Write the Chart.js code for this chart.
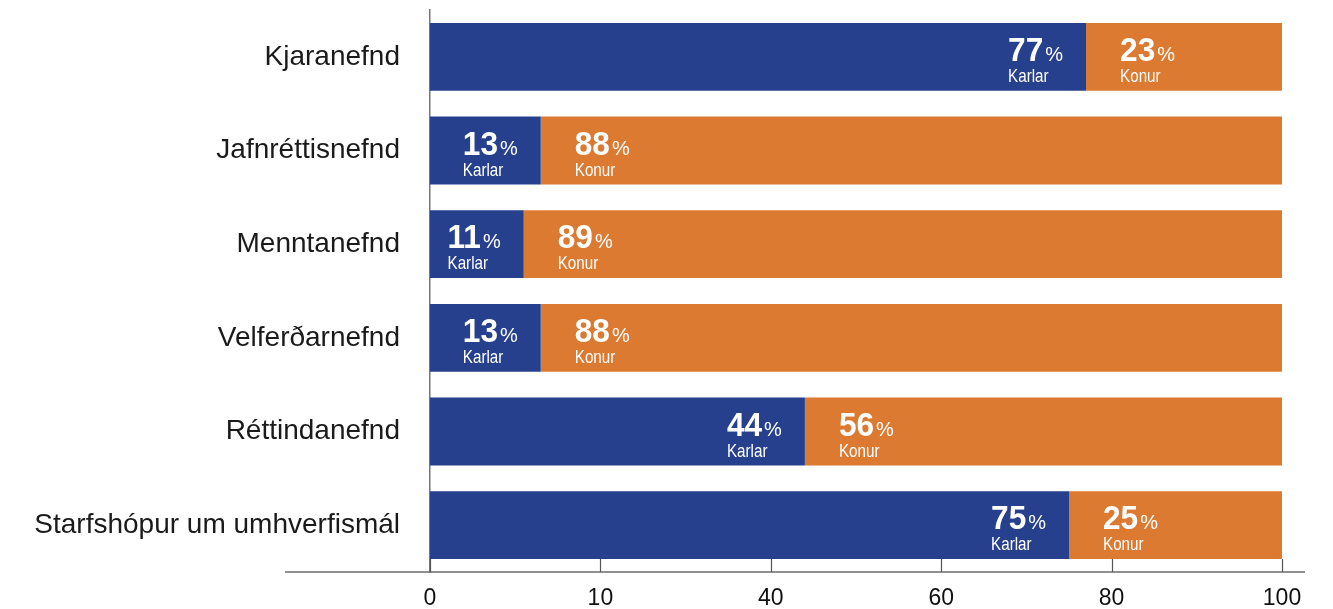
<!DOCTYPE html>
<html>
<head>
<meta charset="utf-8">
<script src="https://cdn.jsdelivr.net/npm/chart.js@4"></script>
<style>
  html, body { margin: 0; padding: 0; background: #ffffff; }
  #wrap { width: 1333px; height: 609px; position: relative; }
</style>
</head>
<body>
<div id="wrap"><canvas id="c"></canvas></div>
<script>
const categories = ['Kjaranefnd', 'Jafnréttisnefnd', 'Menntanefnd', 'Velferðarnefnd', 'Réttindanefnd', 'Starfshópur um umhverfismál'];
const karlar = [77, 13, 11, 13, 44, 75];
const konur = [23, 88, 89, 88, 56, 25];
const seriesNames = ['Karlar', 'Konur'];
const tickValues = [0, 20, 40, 60, 80, 100];
const tickLabels = ['0', '10', '40', '60', '80', '100'];

const BLUE = '#26408e';
const ORANGE = '#dc7a31';

const axisPlugin = {
  id: 'axisPlugin',
  afterDraw(chart) {
    const ctx = chart.ctx;
    const area = chart.chartArea;
    const xs = chart.scales.x;
    ctx.save();
    ctx.strokeStyle = '#6b6b6b';
    ctx.lineWidth = 1.5;
    ctx.beginPath();
    ctx.moveTo(area.left - 145, area.bottom);
    ctx.lineTo(area.right + 23, area.bottom);
    ctx.stroke();
    ctx.lineWidth = 1.2;
    ctx.strokeStyle = '#555';
    tickValues.forEach(v => {
      const px = Math.round(xs.getPixelForValue(v)) + 0.5;
      ctx.beginPath();
      ctx.moveTo(px, area.bottom);
      ctx.lineTo(px, area.bottom - 13);
      ctx.stroke();
    });
    ctx.restore();
  }
};

const NUM_SX = 0.93;
const NAME_SX = 0.8;

const labelPlugin = {
  id: 'labelPlugin',
  afterDatasetsDraw(chart) {
    const ctx = chart.ctx;
    const m0 = chart.getDatasetMeta(0);
    ctx.save();
    ctx.fillStyle = '#ffffff';
    ctx.textBaseline = 'alphabetic';
    ctx.textAlign = 'left';
    const numFont = 'bold 34px "Liberation Sans", Arial, sans-serif';
    const pctFont = '20px "Liberation Sans", Arial, sans-serif';
    const nameFont = '19px "Liberation Sans", Arial, sans-serif';
    function scaledText(s, x, y, sx) {
      ctx.save();
      ctx.translate(x, y);
      ctx.scale(sx, 1);
      ctx.fillText(s, 0, 0);
      ctx.restore();
    }
    function numWidth(value) {
      ctx.font = numFont;
      return ctx.measureText(String(value)).width * NUM_SX;
    }
    function drawLabel(left, cy, value, name) {
      const w = numWidth(value);
      ctx.font = numFont;
      scaledText(String(value), left, cy + 4, NUM_SX);
      ctx.font = pctFont;
      ctx.fillText('%', left + w + 2, cy + 4);
      ctx.font = nameFont;
      scaledText(name, left, cy + 25, NAME_SX);
    }
    function labelWidth(value) {
      const w = numWidth(value);
      ctx.font = pctFont;
      return w + 2 + ctx.measureText('%').width;
    }
    categories.forEach((c, i) => {
      const b = m0.data[i];
      const cy = b.y;
      const blueEnd = b.x;
      const lw = labelWidth(karlar[i]);
      drawLabel(blueEnd - 23 - lw, cy, karlar[i], seriesNames[0]);
      drawLabel(blueEnd + 34, cy, konur[i], seriesNames[1]);
    });
    ctx.restore();
  }
};

new Chart(document.getElementById('c'), {
  type: 'bar',
  data: {
    labels: categories,
    datasets: [
      { label: seriesNames[0], data: karlar, backgroundColor: BLUE, borderWidth: 0, clip: 0 },
      { label: seriesNames[1], data: konur, backgroundColor: ORANGE, borderWidth: 0, clip: 0 }
    ]
  },
  options: {
    indexAxis: 'y',
    responsive: true,
    maintainAspectRatio: false,
    animation: false,
    devicePixelRatio: 1,
    layout: { padding: { top: 10, right: 51, bottom: 0, left: 0 } },
    datasets: { bar: { categoryPercentage: 1, barPercentage: 0.725 } },
    plugins: { legend: { display: false }, tooltip: { enabled: false } },
    scales: {
      x: {
        stacked: true,
        min: 0,
        max: 100,
        afterBuildTicks(scale) { scale.ticks = tickValues.map(v => ({ value: v })); },
        afterFit(scale) {
          scale.height = 37;
          scale.paddingLeft = 0; scale.paddingRight = 0;
          scale.paddingTop = 0; scale.paddingBottom = 0;
        },
        grid: { display: false, drawTicks: false },
        border: { display: false },
        ticks: {
          padding: 13,
          color: '#111',
          font: { family: '"Liberation Sans", Arial, sans-serif', size: 23 },
          callback(v) { const i = tickValues.indexOf(v); return i >= 0 ? tickLabels[i] : ''; }
        }
      },
      y: {
        stacked: true,
        afterFit(scale) {
          scale.width = 430;
          scale.paddingTop = 0; scale.paddingBottom = 0;
          scale.paddingLeft = 0; scale.paddingRight = 0;
        },
        grid: { display: false, drawTicks: false },
        border: { display: true, color: '#777', width: 1.5 },
        ticks: {
          padding: 30,
          color: '#1a1a1a',
          font: { family: '"Liberation Sans", Arial, sans-serif', size: 28 }
        }
      }
    }
  },
  plugins: [axisPlugin, labelPlugin]
});
</script>
</body>
</html>
